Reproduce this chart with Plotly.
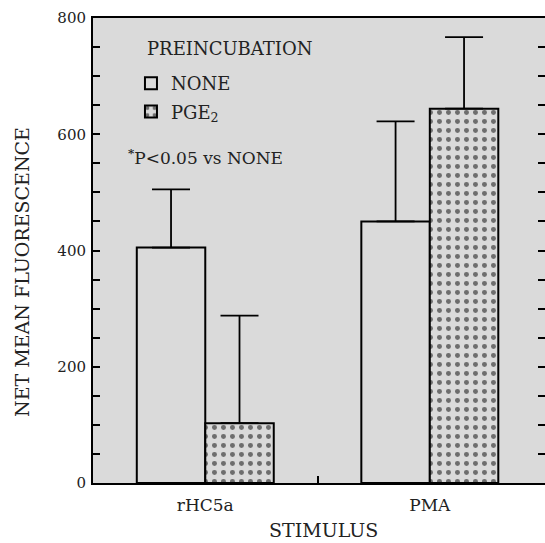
import plotly.graph_objects as go

stimuli = ["rHC5a", "PMA"]
none_mean = [405, 450]
none_err = [100, 172]
pge2_mean = [103, 644]
pge2_err = [185, 123]

y_ticks = [0, 200, 400, 600, 800]

GRAY = "#dadada"
FONT = "DejaVu Serif"
TXT = "#222"
xpos = list(range(len(stimuli)))

fig = go.Figure()
fig.add_trace(go.Bar(
    x=xpos, y=none_mean, name="NONE", legendgroup="none",
    marker=dict(color=GRAY, line=dict(color="black", width=2)),
    error_y=dict(type="data", symmetric=False, array=none_err,
                 arrayminus=[0] * len(none_err), color="black",
                 thickness=1.8, width=19),
))
fig.add_trace(go.Bar(
    x=xpos, y=pge2_mean, name="PGE<sub>2</sub>", legendgroup="pge2",
    marker=dict(color=GRAY, line=dict(color="black", width=2),
                pattern=dict(shape=".", fgcolor="black", bgcolor=GRAY,
                             size=9, solidity=0.24)),
    error_y=dict(type="data", symmetric=False, array=pge2_err,
                 arrayminus=[0] * len(pge2_err), color="black",
                 thickness=1.8, width=19),
))
fig.add_trace(go.Scatter(x=[], y=[], yaxis="y2", showlegend=False,
                         hoverinfo="skip"))

tick_common = dict(ticks="inside", ticklen=7, tickwidth=1.5, tickcolor="black")

fig.update_layout(
    width=545, height=543,
    margin=dict(l=93, r=0, t=18, b=60),
    paper_bgcolor="white", plot_bgcolor=GRAY,
    barmode="group", bargap=0.39, bargroupgap=0,
    font=dict(family=FONT, size=18, color=TXT),
    xaxis=dict(
        range=[-0.5, 1.513], tickmode="array", tickvals=xpos, ticktext=stimuli,
        ticks="", showline=True, mirror=True, linewidth=2, linecolor="black",
        showgrid=False, zeroline=False,
        tickfont=dict(family=FONT, size=17, color=TXT),
        ticklabelstandoff=6,
        minor=dict(tickmode="array", tickvals=[0.5], showgrid=False, **tick_common),
    ),
    yaxis=dict(
        range=[0, 800], tickmode="array", tickvals=y_ticks,
        showline=True, linewidth=2, linecolor="black",
        showgrid=False, zeroline=False,
        tickfont=dict(family=FONT, size=15, color=TXT),
        ticklabelstandoff=2,
        minor=dict(dtick=50, showgrid=False, **tick_common),
        **tick_common,
    ),
    yaxis2=dict(
        range=[0, 800], overlaying="y", side="right", tickmode="array",
        tickvals=y_ticks, showticklabels=False, showline=False,
        showgrid=False, zeroline=False,
        minor=dict(dtick=50, showgrid=False, **tick_common),
        **tick_common,
    ),
    legend=dict(
        x=0.084, y=0.899, xanchor="left", yanchor="top",
        bgcolor="rgba(0,0,0,0)", borderwidth=0,
        traceorder="grouped", tracegroupgap=2,
        font=dict(family=FONT, size=18, color=TXT),
    ),
    annotations=[
        dict(text="PREINCUBATION", xref="paper", yref="paper",
             x=0.115, y=0.935, xanchor="left", yanchor="middle", showarrow=False,
             font=dict(family=FONT, size=18, color=TXT)),
        dict(text="NET MEAN FLUORESCENCE", textangle=-90, xref="paper", yref="paper",
             x=-0.157, y=0.454, xanchor="center", yanchor="middle", showarrow=False,
             font=dict(family=FONT, size=19, color=TXT)),
        dict(text="STIMULUS", xref="paper", yref="paper", x=0.509, y=-0.1,
             xanchor="center", yanchor="middle", showarrow=False,
             font=dict(family=FONT, size=19, color=TXT)),
        dict(text="<b><sup>*</sup></b>P&lt;0.05 vs NONE", xref="paper", yref="paper",
             x=0.072, y=0.701, xanchor="left", yanchor="middle", showarrow=False,
             font=dict(family=FONT, size=17, color=TXT)),
    ],
)

fig.write_html("out.html")
